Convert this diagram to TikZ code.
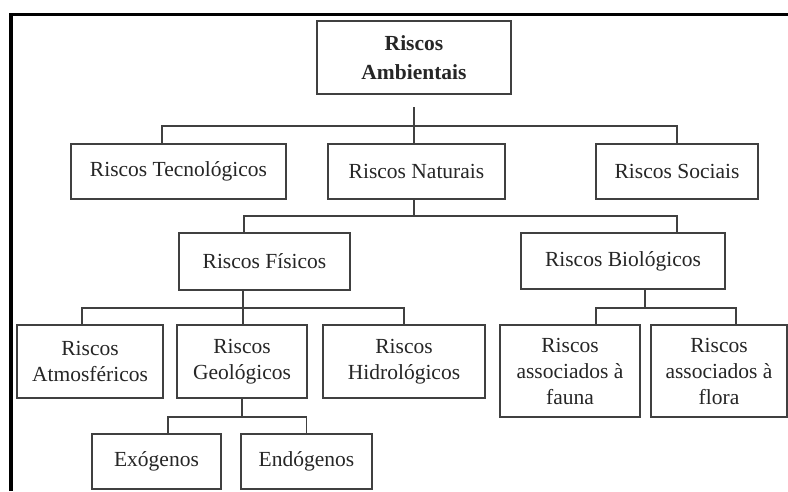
\documentclass[tikz,border=0pt]{standalone}
\usepackage{fontspec}
\setmainfont{Liberation Serif}
\usetikzlibrary{calc}
\tikzset{risco/.style={draw=black!75,line width=1.3pt,fill=white,inner sep=0pt,align=center,text=black!85,font=\fontsize{21.5}{26}\selectfont},
  liga/.style={draw=black!75,line width=1.3pt}}
\begin{document}
\begin{tikzpicture}[x=1pt,y=-1pt]
\useasboundingbox (0,0) rectangle (788,491);
\draw[line width=3.5pt] (11,491) -- (11,14.5) -- (788,14.5);
% caixas
\node[risco,minimum width=194pt,minimum height=73pt,font=\fontsize{21.5}{28.5}\selectfont\bfseries] (amb) at (414,57.5) {Riscos\\Ambientais};
\node[risco,minimum width=215pt,minimum height=55pt] (tec) at (178.5,171.5) {Riscos Tecnológicos};
\node[risco,minimum width=177pt,minimum height=55pt] (nat) at (416.5,171.5) {Riscos Naturais};
\node[risco,minimum width=162pt,minimum height=55pt] (soc) at (677,171.5) {Riscos Sociais};
\node[risco,minimum width=171pt,minimum height=57pt] (fis) at (264.5,261.5) {Riscos Físicos};
\node[risco,minimum width=204pt,minimum height=56pt] (bio) at (623,261) {Riscos Biológicos};
\node[risco,minimum width=146pt,minimum height=73pt] (atm) at (90,361.5) {Riscos\\Atmosféricos};
\node[risco,minimum width=130pt,minimum height=73pt] (geo) at (242,361.5) {Riscos\\Geológicos};
\node[risco,minimum width=162pt,minimum height=73pt] (hid) at (404,361.5) {Riscos\\Hidrológicos};
\node[risco,minimum width=140pt,minimum height=92pt] (fau) at (570,371) {Riscos\\associados à\\fauna};
\node[risco,minimum width=136pt,minimum height=92pt] (flo) at (719,371) {Riscos\\associados à\\flora};
\node[risco,minimum width=129pt,minimum height=55pt] (exo) at (156.5,461.5) {Exógenos};
\node[risco,minimum width=131pt,minimum height=55pt] (endo) at (306.5,461.5) {Endógenos};
% ligacoes
\coordinate (s1) at (414,107); \coordinate (b1) at (414,126); \coordinate (b2) at (414,216);
\coordinate (b3) at (243,308); \coordinate (b4) at (242,417); \coordinate (b5) at (645,308);
\draw[liga] (s1) -- (s1 |- nat.north);
\draw[liga] ([xshift=-16.5pt]tec.north) |- (b1) -| (soc.north);
\draw[liga] (nat.south -| b2) -- (b2);
\draw[liga] ([xshift=-20.5pt]fis.north) |- (b2) -| ([xshift=54pt]bio.north);
\draw[liga] (fis.south -| b3) -- (b3) -- (b3 |- geo.north);
\draw[liga] ([xshift=-8pt]atm.north) |- (b3) -| (hid.north);
\draw[liga] (geo.south -| b4) -- (b4);
\draw[liga] ([xshift=11.5pt]exo.north) |- (b4) -| (endo.north);
\draw[liga] (bio.south -| b5) -- (b5);
\draw[liga] ([xshift=26pt]fau.north) |- (b5) -| ([xshift=17pt]flo.north);
\end{tikzpicture}
\end{document}
